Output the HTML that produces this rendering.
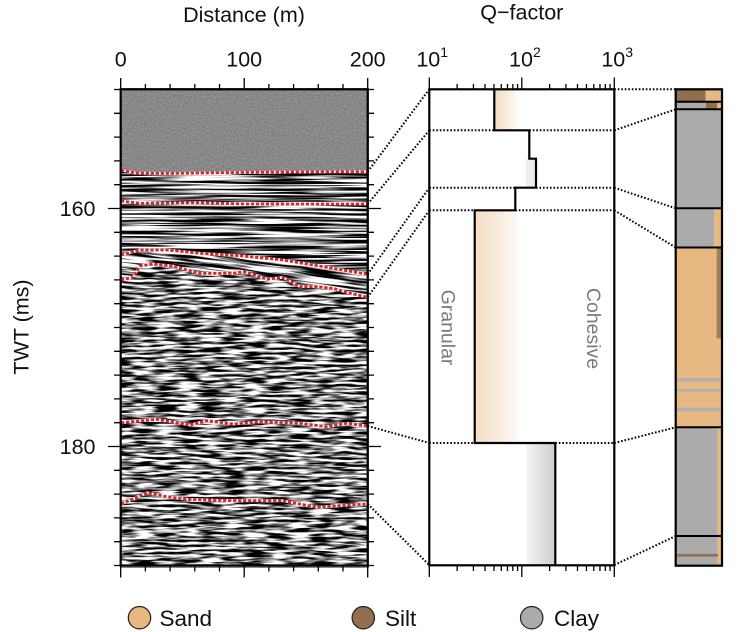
<!DOCTYPE html>
<html><head><meta charset="utf-8"><style>html,body{margin:0;padding:0;background:#fff;}svg{display:block;}</style></head>
<body>
<svg width="737" height="632" viewBox="0 0 737 632" xmlns="http://www.w3.org/2000/svg" font-family="'Liberation Sans', Arial, sans-serif">
<defs>
 <filter id="fTop" filterUnits="userSpaceOnUse" x="120" y="88" width="249" height="480" color-interpolation-filters="sRGB">
  <feTurbulence type="fractalNoise" baseFrequency="0.9 0.6" numOctaves="1" seed="2"/>
  <feColorMatrix type="matrix" values="0.3 0 0 0 0.385  0.3 0 0 0 0.385  0.3 0 0 0 0.385  0 0 0 0 1"/>
 </filter>
 <filter id="fA" filterUnits="userSpaceOnUse" x="120" y="160" width="249" height="120" color-interpolation-filters="sRGB">
  <feTurbulence type="fractalNoise" baseFrequency="0.012 0.45" numOctaves="2" seed="7"/>
  <feColorMatrix type="matrix" values="5 0 0 0 -2  5 0 0 0 -2  5 0 0 0 -2  0 0 0 0 1"/>
 </filter>
 <filter id="fB" filterUnits="userSpaceOnUse" x="120" y="220" width="249" height="110" color-interpolation-filters="sRGB">
  <feTurbulence type="fractalNoise" baseFrequency="0.02 0.42" numOctaves="2" seed="11"/>
  <feColorMatrix type="matrix" values="5 0 0 0 -2  5 0 0 0 -2  5 0 0 0 -2  0 0 0 0 1"/>
 </filter>
 <filter id="fC" filterUnits="userSpaceOnUse" x="120" y="255" width="249" height="315" color-interpolation-filters="sRGB">
  <feTurbulence type="fractalNoise" baseFrequency="0.045 0.4" numOctaves="2" seed="5"/>
  <feColorMatrix type="matrix" values="3.8 0 0 0 -1.4  3.8 0 0 0 -1.4  3.8 0 0 0 -1.4  0 0 0 0 1"/>
 </filter>
 <clipPath id="cA"><polygon points="121,169 135,172 170,172.5 200,172 244,171.5 300,171 368,170.7 368,274.3 333,268.3 283,260 244,256 200,253.3 167,250 140,250 121,255"/></clipPath>
 <clipPath id="cB"><polygon points="121,255 140,250 167,250 200,253.3 244,256 283,260 333,268.3 368,274.3 368,297.3 350,293.3 333,288.3 317,286.7 300,286.7 283,277.3 267,279.3 244,271.7 233,273.3 200,273.3 193,271.7 173,266 153,264 140,266 133,277.3 121,280"/></clipPath>
 <clipPath id="cC"><polygon points="121,280 133,277.3 140,266 153,264 173,266 193,271.7 200,273.3 233,273.3 244,271.7 267,279.3 283,277.3 300,286.7 317,286.7 333,288.3 350,293.3 368,297.3 368,566 121,566"/></clipPath>
 <linearGradient id="peach" x1="0" x2="1" y1="0" y2="0">
  <stop offset="0" stop-color="#f4dcc2"/><stop offset="1" stop-color="#fdf9f5"/>
 </linearGradient>
 <linearGradient id="grayg" x1="0" x2="1" y1="0" y2="0">
  <stop offset="0" stop-color="#f4f4f4"/><stop offset="1" stop-color="#cdcdcd"/>
 </linearGradient>
</defs>

<!-- Titles -->
<text x="244" y="22" font-size="21.5" text-anchor="middle" fill="#111">Distance (m)</text>
<text x="521.8" y="19.5" font-size="21.5" text-anchor="middle" fill="#111">Q−factor</text>
<text transform="translate(28.5,327) rotate(-90)" font-size="21.5" text-anchor="middle" fill="#111">TWT (ms)</text>

<!-- Left tick labels -->
<g font-size="21.5" fill="#111" text-anchor="middle">
 <text x="120.7" y="66.5">0</text>
 <text x="244.2" y="66.5">100</text>
 <text x="367.7" y="66.5">200</text>
</g>
<g font-size="21.5" fill="#111" text-anchor="end">
 <text x="95.5" y="216.2">160</text>
 <text x="95.5" y="454.2">180</text>
</g>
<!-- Q tick labels -->
<g font-size="21.5" fill="#111" text-anchor="middle">
 <text x="428.3" y="66.5">10</text>
 <text x="521" y="66.5">10</text>
 <text x="613.3" y="66.5">10</text>
</g>
<g font-size="14" fill="#111">
 <text x="440.3" y="57">1</text>
 <text x="533" y="57">2</text>
 <text x="625.3" y="57">3</text>
</g>

<!-- Seismic panel -->
<rect x="120.7" y="89.3" width="247" height="476.2" fill="#858585" filter="url(#fTop)"/>
<g clip-path="url(#cA)"><rect x="120" y="160" width="249" height="120" filter="url(#fA)"/></g>
<g clip-path="url(#cB)"><g transform="translate(0,-14.5) skewY(6.84)"><rect x="120" y="220" width="249" height="110" filter="url(#fB)"/></g></g>
<g clip-path="url(#cC)"><rect x="120" y="255" width="249" height="315" filter="url(#fC)"/></g>

<!-- Horizons -->
<g fill="none" stroke-width="2.8" stroke-linejoin="round">
 <g stroke="#ffffff">
  <polyline points="121,170 135,173 170,173.5 200,173 244,172.5 300,172 367.7,171.7"/>
  <polyline points="121,201 140,203.3 200,202.7 244,204 300,204 367.7,204"/>
  <polyline points="121,255 140,250 167,250 200,253.3 244,256 283,260 333,268.3 367.7,274.3"/>
  <polyline points="121,280 133,277.3 140,266 153,264 173,266 193,271.7 200,273.3 233,273.3 244,271.7 267,279.3 283,277.3 300,286.7 317,286.7 333,288.3 350,293.3 367.7,297.3"/>
  <polyline points="121,422.7 157,419.3 190,425 207,420.7 233,424 260,421.7 300,423.3 327,426.7 347,423.3 367.7,426"/>
  <polyline points="121,504 147,492.7 167,496.7 187,499.3 233,500.7 283,500.7 317,507.3 333,506 367.7,504"/>
 </g>
 <g stroke="#d8262a" stroke-dasharray="3.3 1.7">
  <polyline points="121,170 135,173 170,173.5 200,173 244,172.5 300,172 367.7,171.7"/>
  <polyline points="121,201 140,203.3 200,202.7 244,204 300,204 367.7,204"/>
  <polyline points="121,255 140,250 167,250 200,253.3 244,256 283,260 333,268.3 367.7,274.3"/>
  <polyline points="121,280 133,277.3 140,266 153,264 173,266 193,271.7 200,273.3 233,273.3 244,271.7 267,279.3 283,277.3 300,286.7 317,286.7 333,288.3 350,293.3 367.7,297.3"/>
  <polyline points="121,422.7 157,419.3 190,425 207,420.7 233,424 260,421.7 300,423.3 327,426.7 347,423.3 367.7,426"/>
  <polyline points="121,504 147,492.7 167,496.7 187,499.3 233,500.7 283,500.7 317,507.3 333,506 367.7,504"/>
 </g>
</g>

<rect x="120.7" y="89.3" width="247" height="476.2" fill="none" stroke="#000" stroke-width="2.2"/>

<!-- Left panel ticks -->
<path fill="none" stroke="#000" stroke-width="1.3" d="
M120.7,78V89.3 M244.2,78V89.3 M367.7,78V89.3
M145.4,84V89.3 M170.1,84V89.3 M194.8,84V89.3 M219.5,84V89.3 M268.9,84V89.3 M293.6,84V89.3 M318.3,84V89.3 M343,84V89.3
M120.7,565.5V577.5 M244.2,565.5V577.5 M367.7,565.5V577.5
M145.4,565.5V571.5 M170.1,565.5V571.5 M194.8,565.5V571.5 M219.5,565.5V571.5 M268.9,565.5V571.5 M293.6,565.5V571.5 M318.3,565.5V571.5 M343,565.5V571.5
M108,208.5H120.7 M108,446.5H120.7
M114,89.5H120.7 M114,113.3H120.7 M114,137.1H120.7 M114,160.9H120.7 M114,184.7H120.7 M114,232.3H120.7 M114,256.1H120.7 M114,279.9H120.7 M114,303.7H120.7 M114,327.5H120.7 M114,351.3H120.7 M114,375.1H120.7 M114,398.9H120.7 M114,422.7H120.7 M114,470.3H120.7 M114,494.1H120.7 M114,517.9H120.7 M114,541.7H120.7 M114,565.5H120.7
M367.7,208.5H381 M367.7,446.5H381
M367.7,89.5H374 M367.7,113.3H374 M367.7,137.1H374 M367.7,160.9H374 M367.7,184.7H374 M367.7,232.3H374 M367.7,256.1H374 M367.7,279.9H374 M367.7,303.7H374 M367.7,327.5H374 M367.7,351.3H374 M367.7,375.1H374 M367.7,398.9H374 M367.7,422.7H374 M367.7,470.3H374 M367.7,494.1H374 M367.7,517.9H374 M367.7,541.7H374 M367.7,565.5H374
"/>

<!-- Q-factor panel -->
<rect x="429.3" y="89.3" width="185" height="476" fill="#fff"/>
<rect x="494.3" y="89.3" width="22.5" height="41" fill="url(#peach)"/>
<rect x="526" y="158.7" width="10" height="29" fill="#eeeeee"/>
<rect x="474.7" y="210.3" width="43" height="232.7" fill="url(#peach)"/>
<rect x="526.5" y="443" width="28.8" height="122" fill="url(#grayg)"/>

<g fill="none" stroke="#000" stroke-width="2" stroke-dasharray="1.6 1.9">
 <path d="M429.3,130.3H494.3 M529.3,130.3H614.3 M429.3,187.7H515.3 M536,187.7H614.3 M429.3,210.3H474.7 M515.3,210.3H614.3 M429.3,443H474.7 M555.3,443H614.3"/>
 <path d="M367.7,171.7L429.3,89.3 M367.7,204L429.3,130.3 M367.7,274.3L429.3,187.7 M367.7,297.3L429.3,210.3 M367.7,426L429.3,443 M367.7,504L429.3,565"/>
 <path d="M614.3,89.3L675.7,89.3 M614.3,130.3L675.7,109.3 M614.3,187.7L675.7,208.3 M614.3,210.3L675.7,247.5 M614.3,443L675.7,427.3 M614.3,565L675.7,536"/>
</g>

<path d="M494.3,89.3V130.3H529.3V158.7H536V187.7H515.3V210.3H474.7V443H555.3V565" fill="none" stroke="#000" stroke-width="2.2"/>
<rect x="429.3" y="89.3" width="185" height="476" fill="none" stroke="#000" stroke-width="2.2"/>

<path fill="none" stroke="#000" stroke-width="1.3" d="
M429.3,77.5V89.3 M521.8,77.5V89.3 M614.3,77.5V89.3
M457.15,84V89.3 M473.43,84V89.3 M484.99,84V89.3 M493.96,84V89.3 M501.28,84V89.3 M507.47,84V89.3 M512.83,84V89.3 M517.57,84V89.3
M549.65,84V89.3 M565.93,84V89.3 M577.49,84V89.3 M586.46,84V89.3 M593.78,84V89.3 M599.97,84V89.3 M605.33,84V89.3 M610.07,84V89.3
M429.3,565V577 M521.8,565V577 M614.3,565V577
M457.15,565V571 M473.43,565V571 M484.99,565V571 M493.96,565V571 M501.28,565V571 M507.47,565V571 M512.83,565V571 M517.57,565V571
M549.65,565V571 M565.93,565V571 M577.49,565V571 M586.46,565V571 M593.78,565V571 M599.97,565V571 M605.33,565V571 M610.07,565V571
"/>

<g font-size="19.5" fill="#7a7a7a" text-anchor="middle">
 <text transform="translate(441.5,327.5) rotate(90)">Granular</text>
 <text transform="translate(587,328.5) rotate(90)">Cohesive</text>
</g>

<!-- Right lithology column -->
<g>
 <rect x="675.7" y="89.3" width="30" height="12.4" fill="#8f6f4d"/>
 <rect x="705.7" y="89.3" width="16.3" height="12.4" fill="#e7b882"/>
 <rect x="675.7" y="101.7" width="30" height="7.6" fill="#ababab"/>
 <rect x="705.7" y="101.7" width="11.6" height="7.6" fill="#8f6f4d"/>
 <rect x="717.3" y="101.7" width="4.7" height="7.6" fill="#e7b882"/>
 <rect x="675.7" y="109.3" width="46.3" height="99" fill="#ababab"/>
 <rect x="675.7" y="208.3" width="38.6" height="39.2" fill="#ababab"/>
 <rect x="714.3" y="208.3" width="7.7" height="39.2" fill="#e7b882"/>
 <rect x="675.7" y="247.5" width="46.3" height="179.8" fill="#e7b882"/>
 <rect x="716.7" y="247.5" width="5.3" height="90.8" fill="#a27d55"/>
 <rect x="675.7" y="378" width="45" height="3.3" fill="#b0b0b0"/>
 <rect x="675.7" y="389" width="45" height="2.7" fill="#b0b0b0"/>
 <rect x="675.7" y="407.7" width="45" height="3.6" fill="#b0b0b0"/>
 <rect x="675.7" y="427.3" width="42" height="138.4" fill="#ababab"/>
 <rect x="717.7" y="427.3" width="4.3" height="138.4" fill="#e7b882"/>
 <rect x="676" y="554" width="42" height="2.6" fill="#8f6f4d"/>
 <path d="M675.7,101.7H722 M675.7,109.3H722 M675.7,208.3H722 M675.7,247.5H722 M675.7,427.3H722 M675.7,536H722" stroke="#000" stroke-width="2" fill="none"/>
 <rect x="675.7" y="89.3" width="46.3" height="476.4" fill="none" stroke="#000" stroke-width="2.2"/>
</g>

<!-- Legend -->
<g stroke="#222" stroke-width="1.2">
 <circle cx="139.5" cy="617.7" r="11.2" fill="#e7b882"/>
 <circle cx="363.3" cy="617.7" r="11.2" fill="#8f6f4d"/>
 <circle cx="531.7" cy="617.7" r="11.2" fill="#ababab"/>
</g>
<g font-size="22.5" fill="#111">
 <text x="159.5" y="625.8">Sand</text>
 <text x="385" y="625.8">Silt</text>
 <text x="554" y="625.8">Clay</text>
</g>
</svg>
</body></html>
